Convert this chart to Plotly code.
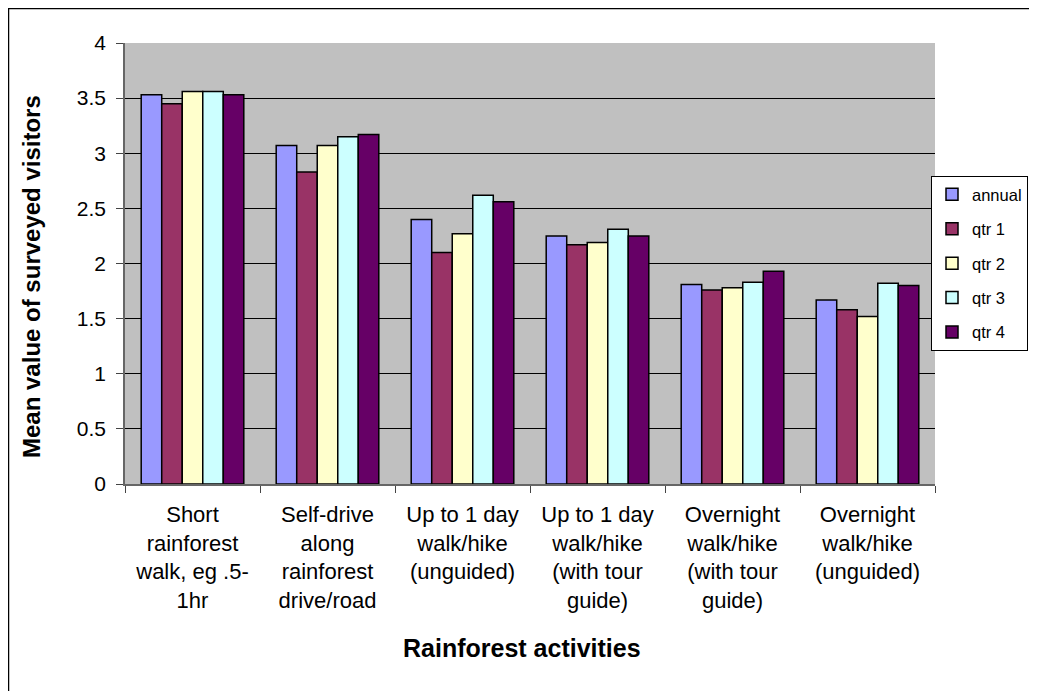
import plotly.graph_objects as go

categories = [
    "Short<br>rainforest<br>walk, eg .5-<br>1hr",
    "Self-drive<br>along<br>rainforest<br>drive/road",
    "Up to 1 day<br>walk/hike<br>(unguided)",
    "Up to 1 day<br>walk/hike<br>(with tour<br>guide)",
    "Overnight<br>walk/hike<br>(with tour<br>guide)",
    "Overnight<br>walk/hike<br>(unguided)",
]
series_names = ["annual", "qtr 1", "qtr 2", "qtr 3", "qtr 4"]
annual = [3.53, 3.07, 2.40, 2.25, 1.81, 1.67]
qtr1 = [3.45, 2.83, 2.10, 2.17, 1.76, 1.58]
qtr2 = [3.56, 3.07, 2.27, 2.19, 1.78, 1.52]
qtr3 = [3.56, 3.15, 2.62, 2.31, 1.83, 1.82]
qtr4 = [3.53, 3.17, 2.56, 2.25, 1.93, 1.80]
x_title = "Rainforest activities"
y_title = "Mean value of surveyed visitors"
colors = ["#9999FF", "#993366", "#FFFFCC", "#CCFFFF", "#660066"]

# the page has an 8px body margin: figure coordinates = page coordinates - 8
OFF = 8
W, H = 1037 - OFF, 691 - OFF
L, R, T, B = 125 - OFF, 935 - OFF, 43 - OFF, 484 - OFF

fig = go.Figure()
for name, vals, col in zip(series_names, [annual, qtr1, qtr2, qtr3, qtr4], colors):
    fig.add_trace(go.Bar(
        x=categories, y=vals, name=name, legendgroup=name,
        marker=dict(color=col, line=dict(color="black", width=1.5)),
    ))


def px_x(page_x):
    return (page_x - OFF - L) / (R - L)


def px_y(page_y):
    return (B - (page_y - OFF)) / (B - T)


fig.update_layout(
    width=W, height=H,
    margin=dict(l=L, r=W - R, t=T, b=H - B, autoexpand=False),
    paper_bgcolor="white",
    plot_bgcolor="#C0C0C0",
    barmode="group",
    bargap=0.24,
    bargroupgap=0,
    font=dict(family="Liberation Sans, Arial", size=21, color="black"),
    showlegend=True,
    legend=dict(
        x=px_x(931), y=px_y(176), xanchor="left", yanchor="top",
        bordercolor="black", borderwidth=1, bgcolor="white",
        font=dict(size=16.5), tracegroupgap=10, itemwidth=30,
    ),
    xaxis=dict(
        tickson="boundaries", ticks="outside", ticklen=7, tickcolor="#444",
        ticklabelstandoff=10,
        showline=True, linecolor="#666", linewidth=1.5,
        showgrid=False, tickfont=dict(size=22),
    ),
    yaxis=dict(
        range=[0, 4], dtick=0.5, tickformat="~g",
        ticks="outside", ticklen=7, tickcolor="#444", ticklabelstandoff=6,
        showline=True, linecolor="#666", linewidth=1.5,
        showgrid=True, gridcolor="black", gridwidth=1,
        zeroline=False, tickfont=dict(size=21),
    ),
    annotations=[
        dict(text="<b>" + x_title + "</b>", xref="paper", yref="paper",
             x=px_x(522), y=px_y(648), xanchor="center", yanchor="middle",
             showarrow=False, font=dict(size=25)),
        dict(text="<b>" + y_title + "</b>", xref="paper", yref="paper",
             x=px_x(31), y=px_y(277), xanchor="center", yanchor="middle",
             textangle=-90, showarrow=False, font=dict(size=24)),
    ],
    shapes=[dict(
        type="rect", xref="paper", yref="paper",
        x0=px_x(OFF + 0.5), x1=px_x(1060), y0=px_y(720), y1=px_y(OFF + 0.5),
        line=dict(color="black", width=1.5), fillcolor="rgba(0,0,0,0)", layer="below",
    )],
)

fig.write_html("out.html")
